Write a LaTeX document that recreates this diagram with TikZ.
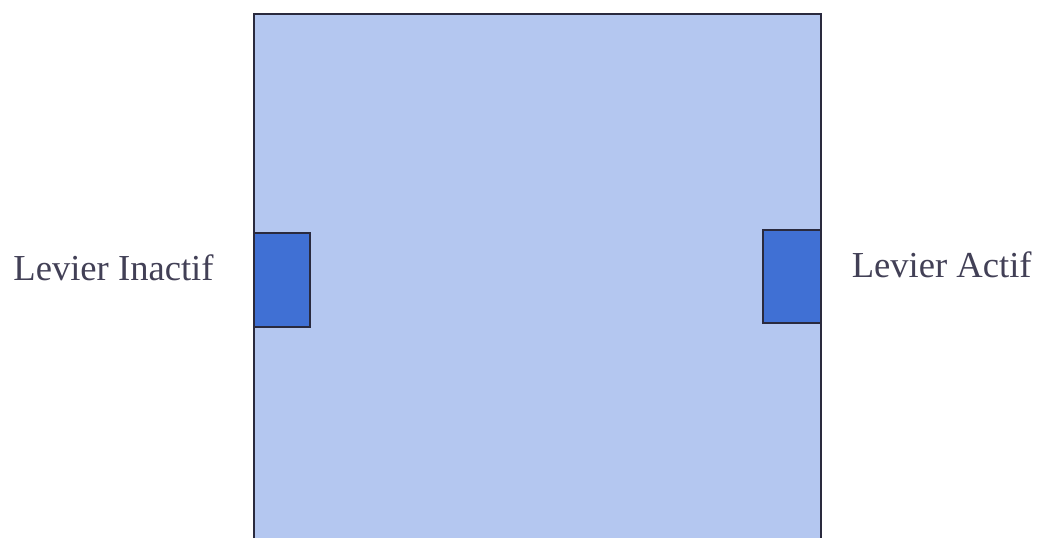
\documentclass[tikz,border=0pt]{standalone}
\usepackage{fontspec}
\setmainfont{Liberation Serif}
\usetikzlibrary{positioning}
\definecolor{cagefill}{RGB}{180,199,240}
\definecolor{leverfill}{RGB}{64,112,212}
\definecolor{inkdark}{RGB}{42,42,62}
\definecolor{labelink}{RGB}{66,64,86}

\begin{document}
\begin{tikzpicture}[x=0.5pt, y=-0.5pt,
          cage/.style={draw=inkdark, line width=1.1pt},
          levernode/.style={draw=inkdark, fill=leverfill, line width=1pt,
                            inner sep=0pt},
          lbl/.style={inner sep=0pt, text=labelink, font=\fontsize{18.3}{22}\selectfont}]
          \useasboundingbox (0,0) rectangle (1038,538);
          % chamber, open at the bottom edge
          \fill[cagefill] (254,14) rectangle (821,538);
          \draw[cage] (254,538) -- (254,14) -- (821,14) -- (821,538);
          % levers
          \node[levernode, minimum width=28pt, minimum height=47pt] (inactif) at (282,280) {};
          \node[levernode, minimum width=29pt, minimum height=46.5pt] (actif) at (792,276.5) {};
          \node[lbl, anchor=base west] (inactiflbl) at (13,280) {Levier Inactif};
          \node[lbl, anchor=base east] (actiflbl) at (1032,277) {Levier Actif};
        \end{tikzpicture}
\end{document}
